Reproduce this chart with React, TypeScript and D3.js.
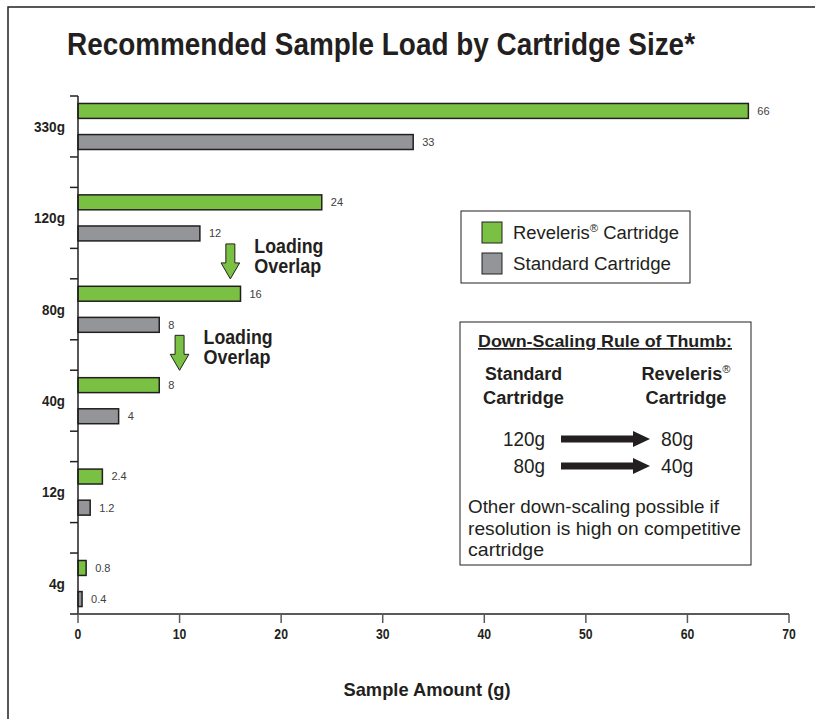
import React from "react";
import { scaleBand, scaleLinear } from "d3";

// chart data
const categories = ["330g", "120g", "80g", "40g", "12g", "4g"];
const revelerisValues = [66, 24, 16, 8, 2.4, 0.8];
const standardValues = [33, 12, 8, 4, 1.2, 0.4];
const seriesNames = ["Reveleris", "Standard Cartridge"];
const xTicks = [0, 10, 20, 30, 40, 50, 60, 70];
const ruleRows = [
  ["120g", "80g"],
  ["80g", "40g"],
];
const overlapNotes = [
  { from: "120g", value: 15 },
  { from: "80g", value: 10 },
];
const noteLines = ["Other down-scaling possible if", "resolution is high on competitive", "cartridge"];

const GREEN = "#7ac143";
const GREY = "#939598";
const INK = "#231f20";
const FONT = "'Liberation Sans',Arial,Helvetica,sans-serif";

// squeezed text to imitate the condensed face of the original
const T = ({ x, y, w, size, bold, anchor, children, fill, deco, dy }: any) => (
  <text
    x={x}
    y={y}
    dy={dy}
    fontSize={size}
    fontWeight={bold ? "bold" : "normal"}
    textAnchor={anchor || "start"}
    textLength={w}
    lengthAdjust="spacingAndGlyphs"
    fill={fill || INK}
    textDecoration={deco}
  >
    {children}
  </text>
);

const App = () => {
  //scales
  const x = scaleLinear().domain([0, 70]).range([78, 789]);
  const y = scaleBand().domain(categories).range([96, 614]).paddingInner(0.333).paddingOuter(0);
  const sub = scaleBand()
    .domain(["rev", "std"])
    .range([0, y.bandwidth()])
    .paddingInner(0.52)
    .paddingOuter(0.24);

  const catWidth = (c: string) => (c.length === 4 ? 31 : c.length === 3 ? 23 : 16);

  // down arrow for the "Loading Overlap" notes
  const downArrow = (cx: number, top: number) => {
    const h = 35;
    const headH = 16;
    const shaftW = 4.5;
    const headW = 9.3;
    return `M${cx - shaftW},${top} H${cx + shaftW} V${top + h - headH} H${cx + headW} L${cx},${top + h} L${cx - headW},${top + h - headH} H${cx - shaftW} Z`;
  };

  // right arrow for the rule of thumb box
  const rightArrow = (x0: number, x1: number, cy: number) =>
    `M${x0},${cy - 3.5} H${x1 - 17} V${cy - 8} L${x1},${cy} L${x1 - 17},${cy + 8} V${cy + 3.5} H${x0} Z`;

  return (
    <svg
      width={815}
      height={719}
      style={{ position: "absolute", left: 0, top: 0, background: "#fff" }}
      fontFamily={FONT}
    >
      {/* frame */}
      <path d="M8,719 V7 H815" fill="none" stroke={INK} strokeWidth={1.5} />

      {/* title */}
      <T x={67} y={55} w={628} size={32} bold>
        Recommended Sample Load by Cartridge Size*
      </T>

      {/* bars */}
      {categories.map((c, i) => {
        const y0 = y(c) as number;
        const rev = revelerisValues[i];
        const std = standardValues[i];
        const yr = y0 + (sub("rev") as number);
        const ys = y0 + (sub("std") as number);
        return (
          <g key={c}>
            <rect x={x(0)} y={yr} width={x(rev) - x(0)} height={sub.bandwidth()} fill={GREEN} stroke={INK} strokeWidth={1.5} />
            <text x={x(rev) + 9} y={yr + sub.bandwidth() / 2} dy="0.35em" fontSize={11} fill="#414042">
              {rev}
            </text>
            <rect x={x(0)} y={ys} width={x(std) - x(0)} height={sub.bandwidth()} fill={GREY} stroke={INK} strokeWidth={1.5} />
            <text x={x(std) + 9} y={ys + sub.bandwidth() / 2} dy="0.35em" fontSize={11} fill="#414042">
              {std}
            </text>
            <T x={65} y={y0 + y.bandwidth() / 2} dy="0.36em" anchor="end" size={14.5} bold w={catWidth(c)}>
              {c}
            </T>
          </g>
        );
      })}

      {/* y axis */}
      <line x1={x(0)} x2={x(0)} y1={96} y2={615} stroke={INK} strokeWidth={1.5} />
      {categories.map((c) => {
        const y0 = y(c) as number;
        return (
          <g key={"t" + c}>
            <line x1={x(0) - 8} x2={x(0)} y1={y0} y2={y0} stroke={INK} strokeWidth={1.5} />
            <line x1={x(0) - 8} x2={x(0)} y1={y0 + y.bandwidth()} y2={y0 + y.bandwidth()} stroke={INK} strokeWidth={1.5} />
          </g>
        );
      })}

      {/* x axis */}
      <line x1={x(0)} x2={x(70)} y1={614} y2={614} stroke="#58595b" strokeWidth={2} />
      {xTicks.map((t) => (
        <g key={"x" + t}>
          <line x1={x(t)} x2={x(t)} y1={614} y2={623} stroke="#58595b" strokeWidth={1.5} />
          <T x={x(t)} y={639} anchor="middle" size={14.5} bold w={String(t).length * 6.8}>
            {t}
          </T>
        </g>
      ))}
      <T x={427} y={696} anchor="middle" size={19} bold w={167}>
        Sample Amount (g)
      </T>

      {/* loading overlap notes */}
      {overlapNotes.map((n) => {
        const top = (y(n.from) as number) + (sub("std") as number) + sub.bandwidth() + 3;
        const cx = x(n.value);
        const tx = cx + 24;
        return (
          <g key={"n" + n.from}>
            <path d={downArrow(cx, top)} fill={GREEN} stroke={INK} strokeWidth={1} />
            <T x={tx} y={top + 9} size={20} bold w={69}>
              Loading
            </T>
            <T x={tx} y={top + 29} size={20} bold w={67}>
              Overlap
            </T>
          </g>
        );
      })}

      {/* legend */}
      <rect x={461} y={211} width={229} height={72} fill="#fff" stroke={INK} strokeWidth={1} />
      {seriesNames.map((s, i) => (
        <g key={s}>
          <rect x={482} y={222 + i * 31} width={20} height={21} fill={i === 0 ? GREEN : GREY} stroke={INK} strokeWidth={1} />
          {i === 0 ? (
            <text x={513} y={239} fontSize={18} fill={INK} textLength={166} lengthAdjust="spacingAndGlyphs">
              {s}
              <tspan fontSize={11} dy={-7}>®</tspan>
              <tspan dy={7}> Cartridge</tspan>
            </text>
          ) : (
            <T x={513} y={270} size={18} w={158}>
              {s}
            </T>
          )}
        </g>
      ))}

      {/* rule of thumb box */}
      <rect x={460} y={322} width={291} height={243} fill="#fff" stroke={INK} strokeWidth={1} />
      <T x={478} y={347} size={17} bold w={254} deco="underline">
        Down-Scaling Rule of Thumb:
      </T>
      <T x={523.5} y={380} anchor="middle" size={18} bold w={77}>
        Standard
      </T>
      <T x={523.5} y={404} anchor="middle" size={18} bold w={81}>
        Cartridge
      </T>
      <text x={686} y={380} textAnchor="middle" fontSize={18} fontWeight="bold" fill={INK} textLength={89} lengthAdjust="spacingAndGlyphs">
        Reveleris<tspan fontSize={11} fontWeight="normal" dy={-7}>®</tspan>
      </text>
      <T x={686} y={404} anchor="middle" size={18} bold w={81}>
        Cartridge
      </T>
      {ruleRows.map((r, i) => (
        <g key={"r" + i}>
          <T x={545} y={446 + i * 27} anchor="end" size={20} w={r[0].length * 10.5}>
            {r[0]}
          </T>
          <path d={rightArrow(561, 650, 439 + i * 27)} fill={INK} />
          <T x={661} y={446 + i * 27} size={20} w={r[1].length * 10.8}>
            {r[1]}
          </T>
        </g>
      ))}
      {noteLines.map((l, i) => (
        <T key={l} x={468} y={513 + i * 21.5} size={19} w={[251, 273, 76][i]}>
          {l}
        </T>
      ))}
    </svg>
  );
};

export default App;
